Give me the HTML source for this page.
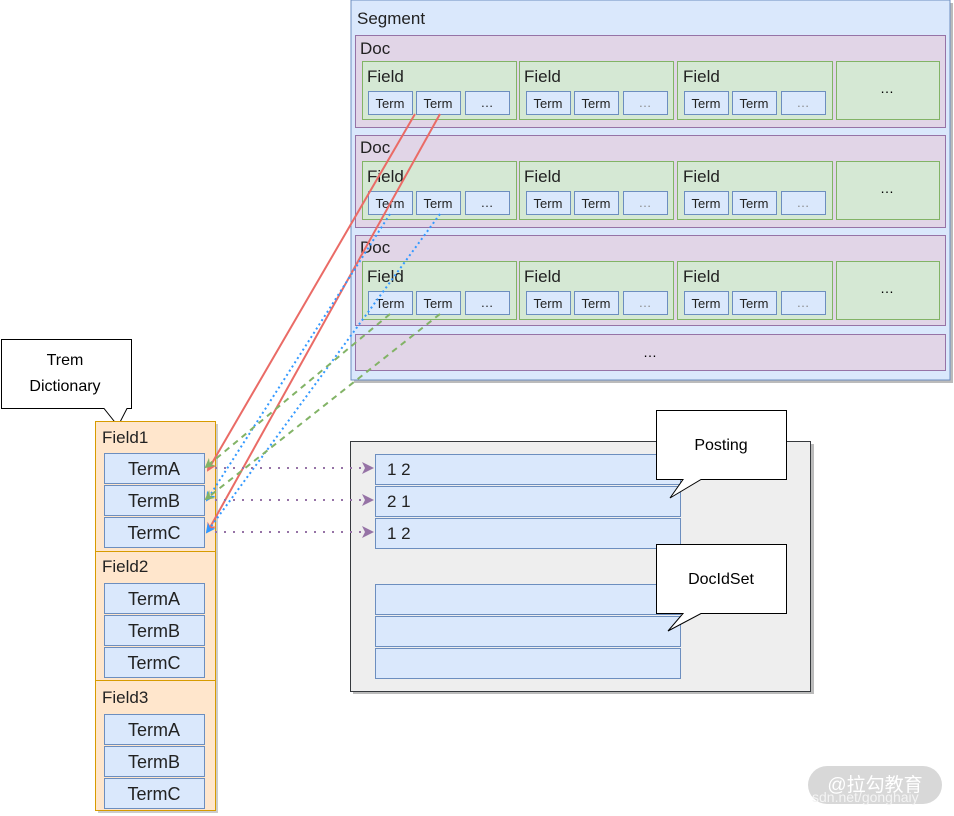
<!DOCTYPE html>
<html><head><meta charset="utf-8"><style>body{margin:0;background:#fff}svg{display:block}text{font-family:"Liberation Sans","DejaVu Sans",sans-serif}</style></head><body>
<svg width="954" height="816" viewBox="0 0 954 816" xmlns="http://www.w3.org/2000/svg">
<defs>
<marker id="ar" markerWidth="10" markerHeight="10" refX="8" refY="5" orient="auto" markerUnits="userSpaceOnUse"><path d="M0,0L10,5L0,10L3,5z" fill="#ea6b66"/></marker>
<marker id="ab" markerWidth="10" markerHeight="10" refX="8" refY="5" orient="auto" markerUnits="userSpaceOnUse"><path d="M0,0L10,5L0,10L3,5z" fill="#3399ff"/></marker>
<marker id="ag" markerWidth="10" markerHeight="10" refX="8" refY="5" orient="auto" markerUnits="userSpaceOnUse"><path d="M0,0L10,5L0,10L3,5z" fill="#82b366"/></marker>
<marker id="ap" markerWidth="12" markerHeight="12" refX="10" refY="6" orient="auto" markerUnits="userSpaceOnUse"><path d="M0,0L12,6L0,12L3,6z" fill="#9673a6"/></marker>
</defs>
<!-- Segment -->
<rect x="354" y="3" width="599" height="380" fill="#bbb"/>
<rect x="351" y="0" width="599" height="380" fill="#dae8fc" stroke="#6c8ebf"/>
<text x="357" y="24" font-size="17" fill="#222">Segment</text>
<g id="docs">
<rect x="355.5" y="35.5" width="590" height="92" fill="#e1d5e7" stroke="#9673a6"/>
<rect x="355.5" y="135.5" width="590" height="92" fill="#e1d5e7" stroke="#9673a6"/>
<rect x="355.5" y="235.5" width="590" height="90" fill="#e1d5e7" stroke="#9673a6"/>
<rect x="355.5" y="334.5" width="590" height="36" fill="#e1d5e7" stroke="#9673a6"/>
<text x="650" y="357" font-size="14" text-anchor="middle">…</text>
</g>
<g font-size="17" fill="#222">
<text x="360" y="54">Doc</text><text x="360" y="153">Doc</text><text x="360" y="253">Doc</text>
</g>
<g id="fields">
<!-- generated per doc -->
<g transform="translate(0,0)">
<rect x="362.5" y="61.5" width="154" height="58" fill="#d5e8d4" stroke="#82b366"/>
<rect x="519.5" y="61.5" width="154" height="58" fill="#d5e8d4" stroke="#82b366"/>
<rect x="677.5" y="61.5" width="155" height="58" fill="#d5e8d4" stroke="#82b366"/>
<rect x="836.5" y="61.5" width="103" height="58" fill="#d5e8d4" stroke="#82b366"/>
<text x="887" y="93" font-size="14" text-anchor="middle">…</text>
<g font-size="17" fill="#222"><text x="367" y="82">Field</text><text x="524" y="82">Field</text><text x="683" y="82">Field</text></g>
<g fill="#dae8fc" stroke="#6c8ebf">
<rect x="368.5" y="91.5" width="44" height="23"/><rect x="416.5" y="91.5" width="44" height="23"/><rect x="465.5" y="91.5" width="44" height="23"/>
<rect x="526.5" y="91.5" width="44" height="23"/><rect x="574.5" y="91.5" width="44" height="23"/><rect x="623.5" y="91.5" width="44" height="23"/>
<rect x="684.5" y="91.5" width="44" height="23"/><rect x="732.5" y="91.5" width="44" height="23"/><rect x="781.5" y="91.5" width="44" height="23"/>
</g>
<g font-size="13" text-anchor="middle" fill="#222">
<text x="390" y="108">Term</text><text x="438" y="108">Term</text><text x="487" y="107">…</text>
<text x="548" y="108">Term</text><text x="596" y="108">Term</text><text x="645" y="107" fill="#888">…</text>
<text x="706" y="108">Term</text><text x="754" y="108">Term</text><text x="803" y="107" fill="#888">…</text>
</g>
</g>
</g>
<use href="#fields" transform="translate(0,100)"/>
<use href="#fields" transform="translate(0,200)"/>
<!-- Trem Dictionary callout -->
<path d="M1.5,339.5H131.5V408.5H127L118,426L104,408.5H1.5Z" fill="#fff" stroke="#000"/>
<text x="65" y="365" font-size="16" text-anchor="middle">Trem</text>
<text x="65" y="391" font-size="16" text-anchor="middle">Dictionary</text>
<!-- Left column -->
<rect x="98" y="424" width="120" height="389" fill="#ccc"/>
<rect x="95.5" y="421.5" width="120" height="130" fill="#ffe6cc" stroke="#d79b00"/>
<rect x="95.5" y="551.5" width="120" height="129" fill="#ffe6cc" stroke="#d79b00"/>
<rect x="95.5" y="680.5" width="120" height="130" fill="#ffe6cc" stroke="#d79b00"/>
<g font-size="17" fill="#222"><text x="102" y="443">Field1</text><text x="102" y="572">Field2</text><text x="102" y="703">Field3</text></g>
<g fill="#dae8fc" stroke="#6c8ebf">
<rect x="104.5" y="453.5" width="100" height="30"/><rect x="104.5" y="485.5" width="100" height="30"/><rect x="104.5" y="517.5" width="100" height="30"/>
<rect x="104.5" y="583.5" width="100" height="30"/><rect x="104.5" y="615.5" width="100" height="30"/><rect x="104.5" y="647.5" width="100" height="30"/>
<rect x="104.5" y="714.5" width="100" height="30"/><rect x="104.5" y="746.5" width="100" height="30"/><rect x="104.5" y="778.5" width="100" height="30"/>
</g>
<g font-size="18" text-anchor="middle" fill="#222">
<text x="154" y="475">TermA</text><text x="154" y="507">TermB</text><text x="154" y="539">TermC</text>
<text x="154" y="605">TermA</text><text x="154" y="637">TermB</text><text x="154" y="669">TermC</text>
<text x="154" y="736">TermA</text><text x="154" y="768">TermB</text><text x="154" y="800">TermC</text>
</g>
<!-- gray box -->
<rect x="353" y="444" width="461" height="250" fill="#bbb"/>
<rect x="350.5" y="441.5" width="460" height="250" fill="#eeeeee" stroke="#36393d"/>
<g fill="#dae8fc" stroke="#6c8ebf">
<rect x="375.5" y="454.5" width="305" height="30"/><rect x="375.5" y="486.5" width="305" height="30"/><rect x="375.5" y="518.5" width="305" height="30"/>
<rect x="375.5" y="584.5" width="305" height="30"/><rect x="375.5" y="616.5" width="305" height="30"/><rect x="375.5" y="648.5" width="305" height="30"/>
</g>
<g font-size="17" fill="#222"><text x="387" y="475">1  2</text><text x="387" y="507">2  1</text><text x="387" y="539">1  2</text></g>
<!-- Posting callout -->
<path d="M656.5,410.5H786.5V479.5H701L670,498L683,479.5H656.5Z" fill="#fff" stroke="#000"/>
<text x="721" y="450" font-size="16" text-anchor="middle">Posting</text>
<path d="M656.5,544.5H786.5V613.5H701L668,631L683,613.5H656.5Z" fill="#fff" stroke="#000"/>
<text x="721" y="584" font-size="16" text-anchor="middle">DocIdSet</text>
<!-- arrows -->
<g fill="none" stroke-width="2">
<line x1="415" y1="114" x2="208" y2="470" stroke="#ea6b66" marker-end="url(#ar)"/>
<line x1="440" y1="114" x2="208" y2="531" stroke="#ea6b66" marker-end="url(#ar)"/>
<line x1="390" y1="214" x2="207" y2="500" stroke="#3399ff" stroke-dasharray="2 3" marker-end="url(#ab)"/>
<line x1="440" y1="214" x2="207" y2="532" stroke="#3399ff" stroke-dasharray="2 3" marker-end="url(#ab)"/>
<line x1="390" y1="314" x2="206" y2="467" stroke="#82b366" stroke-dasharray="6 5" marker-end="url(#ag)"/>
<line x1="440" y1="314" x2="206" y2="499" stroke="#82b366" stroke-dasharray="6 5" marker-end="url(#ag)"/>
<line x1="215" y1="468" x2="372" y2="468" stroke="#9673a6" stroke-dasharray="2 7" marker-end="url(#ap)"/>
<line x1="215" y1="500" x2="372" y2="500" stroke="#9673a6" stroke-dasharray="2 7" marker-end="url(#ap)"/>
<line x1="215" y1="532" x2="372" y2="532" stroke="#9673a6" stroke-dasharray="2 7" marker-end="url(#ap)"/>
</g>
<!-- watermark -->
<rect x="808" y="766" width="134" height="38" rx="19" fill="#d8d8d8"/>
<text x="875" y="791" font-size="19" text-anchor="middle" fill="#fff" font-family="'Liberation Sans','Noto Sans CJK SC',sans-serif">@拉勾教育</text>
<text x="812" y="802" font-size="14" fill="#f4f4f4">sdn.net/gonghaiy</text>
</svg>
</body></html>
